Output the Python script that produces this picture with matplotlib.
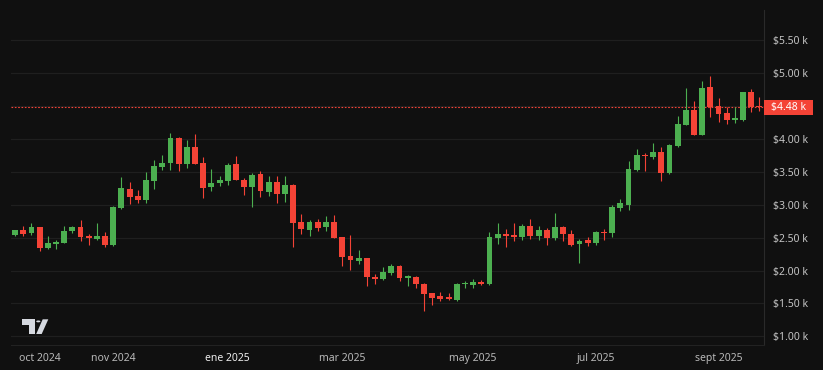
import matplotlib
matplotlib.use("Agg")
import matplotlib.pyplot as plt
import matplotlib.transforms as mtransforms
from matplotlib.patches import Rectangle, Polygon, Circle

# velas (open, high, low, close)
opens = [2547, 2613, 2572, 2659, 2338, 2409, 2424, 2598, 2659, 2526, 2486, 2521, 2383, 2945, 3245, 3133,
         3072, 3358, 3577, 3633, 4021, 3618, 3883, 3633, 3276, 3332, 3358, 3618, 3383, 3276, 3470, 3199,
         3347, 3164, 3296, 2731, 2614, 2731, 2655, 2731, 2517, 2227, 2141, 2197, 1907, 1871, 1968, 2075,
         1886, 1897, 1800, 1662, 1606, 1591, 1555, 1790, 1774, 1830, 1790, 2498, 2554, 2539, 2503, 2677,
         2524, 2616, 2498, 2662, 2549, 2400, 2457, 2426, 2590, 2565, 2954, 2993, 3527, 3755, 3725, 3801,
         3486, 3892, 4212, 4436, 4065, 4786, 4502, 4395, 4294, 4294, 4710, 4502]
highs = [2623, 2684, 2725, 2659, 2521, 2460, 2684, 2674, 2766, 2562, 2725, 2587, 2980, 3424, 3347, 3225,
         3495, 3684, 3755, 4097, 4031, 3990, 4082, 3725, 3546, 3439, 3633, 3745, 3409, 3480, 3521, 3439,
         3439, 3439, 3321, 2853, 2772, 2787, 2833, 2848, 2517, 2543, 2314, 2197, 1953, 2059, 2105, 2090,
         1927, 1922, 1815, 1662, 1678, 1652, 1815, 1846, 1866, 1850, 2590, 2718, 2626, 2729, 2703, 2785,
         2677, 2641, 2882, 2677, 2616, 2477, 2508, 2600, 2631, 2990, 3088, 3664, 3847, 3781, 3938, 3872,
         3923, 4350, 4776, 4573, 4883, 4959, 4629, 4482, 4482, 4720, 4761, 4639]
lows = [2521, 2521, 2547, 2297, 2327, 2327, 2414, 2572, 2450, 2383, 2470, 2358, 2368, 2940, 3011, 3031,
        3031, 3245, 3531, 3531, 3521, 3567, 3618, 3108, 3215, 3291, 3307, 3373, 3154, 2970, 3123, 3138,
        3031, 3041, 2355, 2558, 2528, 2599, 2599, 2492, 2064, 2008, 2095, 1769, 1800, 1856, 1927, 1846,
        1759, 1729, 1377, 1469, 1530, 1555, 1540, 1734, 1734, 1780, 1780, 2411, 2359, 2447, 2462, 2482,
        2462, 2395, 2462, 2447, 2380, 2118, 2380, 2385, 2462, 2508, 2913, 2927, 3511, 3511, 3694, 3364,
        3476, 3872, 4212, 4065, 4065, 4329, 4263, 4228, 4243, 4268, 4416, 4431]
closes = [2613, 2562, 2659, 2338, 2424, 2440, 2598, 2659, 2506, 2496, 2521, 2383, 2960, 3261, 3123, 3072,
          3373, 3592, 3643, 4021, 3618, 3883, 3618, 3261, 3332, 3373, 3607, 3373, 3276, 3454, 3210, 3347,
          3169, 3296, 2721, 2629, 2731, 2645, 2731, 2492, 2212, 2156, 2197, 1897, 1871, 1983, 2075, 1886,
          1907, 1790, 1642, 1586, 1566, 1561, 1790, 1815, 1830, 1790, 2513, 2554, 2524, 2513, 2677, 2524,
          2616, 2498, 2662, 2549, 2395, 2452, 2426, 2580, 2565, 2964, 3021, 3542, 3750, 3735, 3801, 3491,
          3913, 4228, 4436, 4065, 4776, 4487, 4380, 4284, 4319, 4710, 4487, 4482]

month_labels = ["oct 2024", "nov 2024", "ene 2025", "mar 2025", "may 2025", "jul 2025", "sept 2025"]
month_idx = [3, 12, 26, 40, 56, 71, 86]
price_ticks = [1000, 1500, 2000, 2500, 3000, 3500, 4000, 4500, 5000, 5500]

BG = "#101010"
GRID = "#1f1f1f"
UP = "#4caf50"
DOWN = "#f44336"
W, H = 823, 370

fig = plt.figure(figsize=(W / 100, H / 100), dpi=100, facecolor=BG)
ax = fig.add_axes([11 / W, (H - 344.7) / H, (764 - 11) / W, (344.7 - 10) / H])
ax.set_facecolor(BG)

xs = list(range(len(opens)))
cols = [UP if c >= o else DOWN for o, c in zip(opens, closes)]
ax.vlines(xs, lows, highs, colors=cols, linewidth=0.8, zorder=2)
bottoms = [min(o, c) for o, c in zip(opens, closes)]
heights = [max(abs(c - o), 25) for o, c in zip(opens, closes)]
ax.bar(xs, heights, bottom=bottoms, width=0.72, color=cols, linewidth=0, zorder=3)

ax.set_xlim(-0.5, 91.56)
ax.set_ylim(872, 5963)

# rejilla
for p in price_ticks:
    ax.axhline(p, color=GRID, linewidth=0.9, zorder=0)

last = closes[-1]
ax.axhline(last, color=DOWN, linewidth=0.8, linestyle=(0, (1.5, 1.5)), zorder=1)

for s in ["top", "left"]:
    ax.spines[s].set_visible(False)
ax.spines["right"].set_color("#2a2a2a")
ax.spines["bottom"].set_color("#222222")

ax.yaxis.tick_right()
ax.set_yticks(price_ticks)
ax.set_yticklabels(["" if p == 4500 else f"${p / 1000:.2f} k" for p in price_ticks])
ax.tick_params(axis="y", length=0, pad=6.5, labelsize=7.5, labelcolor="#c4c4c4")
for t in ax.get_yticklabels():
    t.set_fontfamily("Noto Sans")
    t.set_horizontalalignment("left")

ax.set_xticks(month_idx)
ax.set_xticklabels(month_labels)
ax.tick_params(axis="x", length=0, pad=6, labelsize=7.5, labelcolor="#b8b8b8")
for t in ax.get_xticklabels():
    t.set_fontfamily("Noto Sans")
    if t.get_text() == "ene 2025":
        t.set_fontweight("bold")
        t.set_color("#eeeeee")

# etiqueta del precio actual
tr = mtransforms.blended_transform_factory(fig.transFigure, ax.transData)
box_h = 15 / ((344.7 - 10) / (5963 - 872))
ax.add_patch(Rectangle((764 / W, last - box_h / 2), 49 / W, box_h, transform=tr,
                       facecolor=DOWN, edgecolor="none", clip_on=False, zorder=5))
ax.text(788.5 / W, last, f"${last / 1000:.2f} k", transform=tr, color="white",
        fontsize=7.5, family="Noto Sans", ha="center", va="center", zorder=6, clip_on=False)


# logo TradingView
def fp(x, y):
    return (x / W, 1 - y / H)


logo = "#d6d9e0"
fig.add_artist(Polygon([fp(21.7, 319.3), fp(35, 319.3), fp(35, 334), fp(29, 334), fp(29, 324.7),
                        fp(21.7, 324.7)], closed=True, transform=fig.transFigure,
                       facecolor=logo, edgecolor="none"))
fig.add_artist(Circle(fp(38.3, 321.4), 2.1 / W, transform=fig.transFigure, facecolor=logo,
                      edgecolor="none"))
fig.add_artist(Polygon([fp(42.7, 319.3), fp(48.3, 319.3), fp(41.7, 334), fp(36.2, 334)], closed=True,
                       transform=fig.transFigure, facecolor=logo, edgecolor="none"))

fig.savefig("out.png", dpi=100, facecolor=BG)
